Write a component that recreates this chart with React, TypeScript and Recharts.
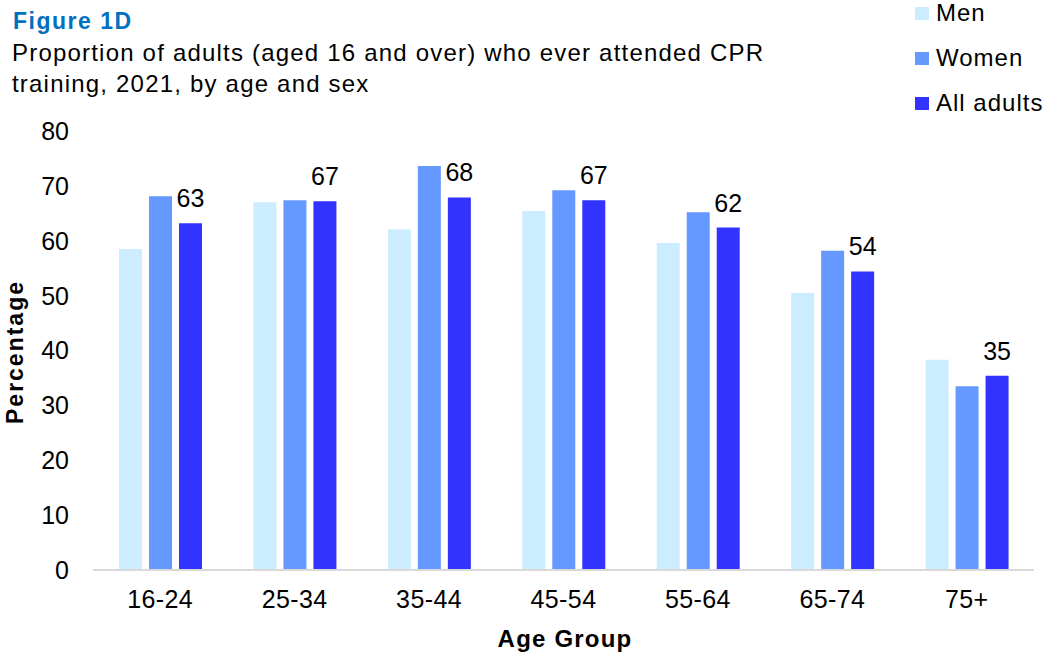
import React from 'react';
import { BarChart, Bar, XAxis, YAxis, LabelList } from 'recharts';

// Age bands on the category axis
const ageGroups = ['16-24', '25-34', '35-44', '45-54', '55-64', '65-74', '75+'];

// Percentage who ever attended CPR training, by sex
const men = [58.5, 67.0, 62.1, 65.4, 59.6, 50.5, 38.3];
const women = [68.1, 67.4, 73.6, 69.2, 65.2, 58.2, 33.5];
const allAdults = [63.2, 67.2, 67.9, 67.4, 62.4, 54.4, 35.4];

const yTicks = [0, 10, 20, 30, 40, 50, 60, 70, 80];

const seriesNames = ['Men', 'Women', 'All adults'];
const seriesKeys = ['men', 'women', 'all'];
const seriesColors = ['#CCECFF', '#6699FF', '#3333FF'];

const data = ageGroups.map((g, i) => ({
  group: g,
  men: men[i],
  women: women[i],
  all: allAdults[i],
}));

const FONT = '"Liberation Sans", Arial, sans-serif';

export default function App() {
  return (
    <div style={{ position: 'absolute', left: 0, top: 0, width: 1051, height: 653, background: '#fff', fontFamily: FONT }}>
      <BarChart
        width={1051}
        height={653}
        data={data}
        margin={{ top: 131, right: 17, bottom: 0, left: 0 }}
        barGap={7}
        barSize={23}
      >
        <XAxis
          dataKey="group"
          height={83}
          tickLine={false}
          axisLine={{ stroke: '#D9D9D9', strokeWidth: 2 }}
          tick={{ fill: '#000', fontSize: 25, fontFamily: FONT, letterSpacing: 0.4 }}
          tickMargin={14}
        />
        <YAxis
          width={93}
          domain={[0, 80]}
          ticks={yTicks}
          axisLine={false}
          tickLine={false}
          tick={{ fill: '#000', fontSize: 25, fontFamily: FONT }}
          tickMargin={18}
        />
        {seriesKeys.map((k, i) => (
          <Bar key={k} dataKey={k} name={seriesNames[i]} fill={seriesColors[i]} isAnimationActive={false}>
            {k === 'all' && (
              <LabelList
                dataKey="all"
                position="top"
                offset={16}
                formatter={(v: number) => Math.round(v)}
                style={{ fill: '#000', fontSize: 25, fontFamily: FONT }}
              />
            )}
          </Bar>
        ))}
      </BarChart>
      <svg
        width={1051}
        height={653}
        style={{ position: 'absolute', left: 0, top: 0, pointerEvents: 'none' }}
        fontFamily={FONT}
      >
        <text x={13} y={29} fontSize={23} fontWeight="bold" fill="#0070C0" letterSpacing={1.5}>Figure 1D</text>
        <text x={12} y={61} fontSize={24} fill="#000" letterSpacing={1.2}>Proportion of adults (aged 16 and over) who ever attended CPR</text>
        <text x={12} y={92} fontSize={24} fill="#000" letterSpacing={1.2}>training, 2021, by age and sex</text>
        {seriesNames.map((name, i) => (
          <g key={name}>
            <rect x={915} y={7 + i * 45} width={14} height={13} fill={seriesColors[i]} />
            <text x={936} y={21 + i * 45} fontSize={24} fill="#000" letterSpacing={1}>{name}</text>
          </g>
        ))}
        <text
          x={0}
          y={0}
          transform="translate(23,352) rotate(-90)"
          textAnchor="middle"
          fontSize={23}
          fontWeight="bold"
          fill="#000"
          letterSpacing={2}
        >
          Percentage
        </text>
        <text x={565} y={647} textAnchor="middle" fontSize={24} fontWeight="bold" fill="#000" letterSpacing={1.2}>Age Group</text>
      </svg>
    </div>
  );
}
